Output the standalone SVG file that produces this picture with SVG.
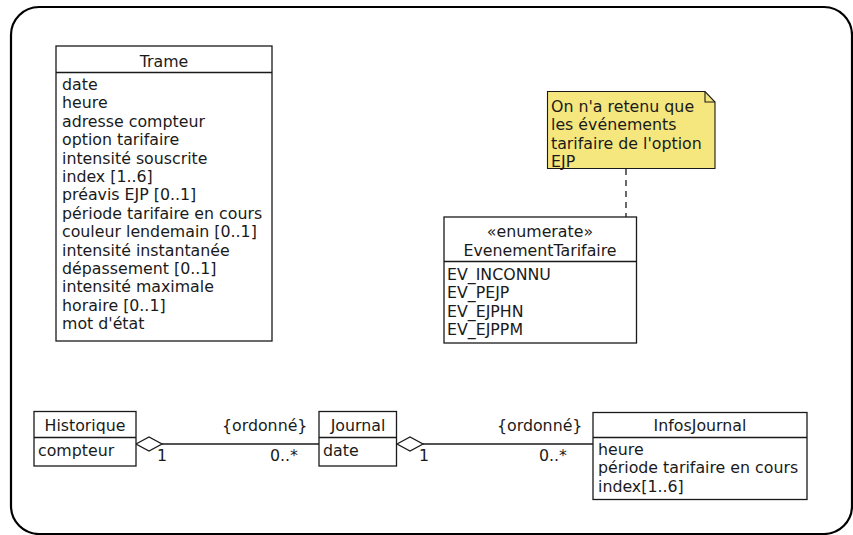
<svg xmlns="http://www.w3.org/2000/svg" width="853" height="535" viewBox="0 0 853 535">
  <style>
    text { font-family: "DejaVu Sans", "Liberation Sans", sans-serif; font-size: 15.8px; fill: #1a1a1a; }
    .c { text-anchor: middle; }
    .box { fill: #ffffff; stroke: #1a1a1a; stroke-width: 1.3; }
    .sep { stroke: #1a1a1a; stroke-width: 1.3; }
    .link { stroke: #1a1a1a; stroke-width: 1.3; fill: none; }
    .diamond { fill: #ffffff; stroke: #1a1a1a; stroke-width: 1.3; }
  </style>

  <!-- outer frame -->
  <rect x="11" y="7" width="841" height="527" rx="28" ry="28" fill="#ffffff" stroke="#000000" stroke-width="2.2"/>

  <!-- connectors -->
  <g id="connectors">
    <line class="link" x1="626" y1="169" x2="626" y2="217" stroke-dasharray="6,5"/>
    <line class="link" x1="162" y1="444" x2="319" y2="444"/>
    <polygon class="diamond" points="136,444 149,437 162,444 149,451"/>
    <line class="link" x1="423" y1="444" x2="593" y2="444"/>
    <polygon class="diamond" points="397,444 410,437 423,444 410,451"/>
    <text x="222" y="431">{ordonné}</text>
    <text x="157" y="461">1</text>
    <text x="270" y="461">0..*</text>
    <text x="497" y="431">{ordonné}</text>
    <text x="419" y="461">1</text>
    <text x="539" y="461">0..*</text>
  </g>

  <!-- Trame -->
  <g id="trame">
    <rect class="box" x="56" y="46" width="216" height="295"/>
    <line class="sep" x1="56" y1="72.5" x2="272" y2="72.5"/>
    <text class="c" x="164" y="66.5">Trame</text>
    <text x="62" y="90">date</text>
    <text x="62" y="108.4">heure</text>
    <text x="62" y="126.8">adresse compteur</text>
    <text x="62" y="145.2">option tarifaire</text>
    <text x="62" y="163.6">intensité souscrite</text>
    <text x="62" y="182">index [1..6]</text>
    <text x="62" y="200.4">préavis EJP [0..1]</text>
    <text x="62" y="218.8">période tarifaire en cours</text>
    <text x="62" y="237.2">couleur lendemain [0..1]</text>
    <text x="62" y="255.6">intensité instantanée</text>
    <text x="62" y="274">dépassement [0..1]</text>
    <text x="62" y="292.4">intensité maximale</text>
    <text x="62" y="310.8">horaire [0..1]</text>
    <text x="62" y="329.2">mot d'état</text>
  </g>

  <!-- note -->
  <g id="note">
    <path d="M547.5,91.5 H705 L715,102 V168.5 H547.5 Z" fill="#f5e77e" stroke="#1a1a1a" stroke-width="1.1"/>
    <path d="M705,91.5 V102 H715" fill="none" stroke="#1a1a1a" stroke-width="1.1"/>
    <text x="551" y="112">On n'a retenu que</text>
    <text x="551" y="130.3">les événements</text>
    <text x="551" y="148.6">tarifaire de l'option</text>
    <text x="551" y="166.5">EJP</text>
  </g>

  <!-- EvenementTarifaire -->
  <g id="evenementTarifaire">
    <rect class="box" x="444" y="217" width="192.5" height="126"/>
    <line class="sep" x1="444" y1="261.5" x2="636.5" y2="261.5"/>
    <text class="c" x="540" y="237">«enumerate»</text>
    <text class="c" x="540" y="255.5">EvenementTarifaire</text>
    <text x="447" y="280">EV_INCONNU</text>
    <text x="447" y="298.4">EV_PEJP</text>
    <text x="447" y="316.8">EV_EJPHN</text>
    <text x="447" y="335.2">EV_EJPPM</text>
  </g>

  <!-- Historique -->
  <g id="historique">
    <rect class="box" x="34" y="411.5" width="102" height="54.5"/>
    <line class="sep" x1="34" y1="437.5" x2="136" y2="437.5"/>
    <text class="c" x="85" y="431">Historique</text>
    <text x="38" y="456">compteur</text>
  </g>

  <!-- Journal -->
  <g id="journal">
    <rect class="box" x="319" y="411.5" width="77.5" height="54.5"/>
    <line class="sep" x1="319" y1="437.5" x2="396.5" y2="437.5"/>
    <text class="c" x="358" y="431">Journal</text>
    <text x="323" y="456">date</text>
  </g>

  <!-- InfosJournal -->
  <g id="infosJournal">
    <rect class="box" x="593" y="412.5" width="214" height="87"/>
    <line class="sep" x1="593" y1="437.5" x2="807" y2="437.5"/>
    <text class="c" x="700" y="431">InfosJournal</text>
    <text x="598" y="455">heure</text>
    <text x="598" y="473.4">période tarifaire en cours</text>
    <text x="598" y="491.8">index[1..6]</text>
  </g>
</svg>
